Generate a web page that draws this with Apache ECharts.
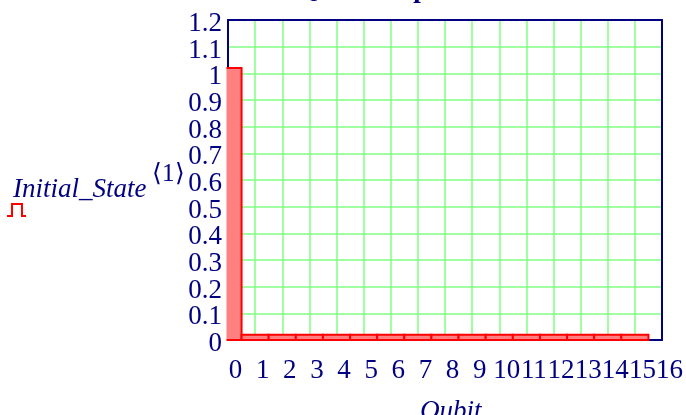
<!DOCTYPE html>
<html>
<head>
<meta charset="utf-8">
<script src="https://cdn.jsdelivr.net/npm/echarts@6/dist/echarts.min.js"></script>
<style>
html,body{margin:0;padding:0;background:#fff;}
#chart{width:686px;height:415px;}
</style>
</head>
<body>
<div id="chart"></div>
<script>
// Data
const qubitIndex = [0, 1, 2, 3, 4, 5, 6, 7, 8, 9, 10, 11, 12, 13, 14, 15];
const initialState = [1.02, 0.02, 0.02, 0.02, 0.02, 0.02, 0.02, 0.02, 0.02, 0.02, 0.02, 0.02, 0.02, 0.02, 0.02, 0.02];
const xTickLabels = ['0','1','2','3','4','5','6','7','8','9','10','11','12','13','14','15','16'];
const yTickLabels = ['0','0.1','0.2','0.3','0.4','0.5','0.6','0.7','0.8','0.9','1','1.1','1.2'];
const titleText = 'Qubit Amplitudes';
const xTitle = 'Qubit';
const yTitle = 'Initial_State';
const ySuper = '\u27E81\u27E9';

const NAVY = '#000080';
const FONT = '"Liberation Serif", "Times New Roman", serif';
const X_MIN = 0, X_MAX = 16, Y_MIN = 0, Y_MAX = 1.2;

const chart = echarts.init(document.getElementById('chart'), null, {renderer: 'canvas'});

const xLabelStyle = {
  show: true, color: NAVY, fontFamily: FONT, fontSize: 27, lineHeight: 22,
  margin: 31, align: 'center', verticalAlign: 'middle', padding: [0, 0, 0, 15], hideOverlap: false
};
const yLabelStyle = {
  show: true, color: NAVY, fontFamily: FONT, fontSize: 27, lineHeight: 8,
  margin: 6, verticalAlign: 'top', padding: 0, hideOverlap: false
};
const xLabel = v => xTickLabels[Math.round(v)];
const yLabel = v => yTickLabels[Math.round(v * 10)];

const baseX = {type: 'value', min: X_MIN, max: X_MAX, interval: 1, axisTick: {show: false}};
const baseY = {type: 'value', min: Y_MIN, max: Y_MAX, interval: 0.1, axisTick: {show: false}};

const option = {
  animation: false,
  backgroundColor: '#ffffff',
  grid: {left: 228, right: 23, top: 20, bottom: 75, show: false},
  xAxis: [
    Object.assign({}, baseX, {
      position: 'bottom',
      axisLine: {show: true, lineStyle: {color: NAVY, width: 2}},
      splitLine: {show: true, showMinLine: false, showMaxLine: false, lineStyle: {color: '#80FF80', width: 1.5}},
      axisLabel: Object.assign({}, xLabelStyle, {showMinLabel: false, showMaxLabel: false, formatter: xLabel})
    }),
    Object.assign({}, baseX, {
      position: 'bottom',
      axisLine: {show: false}, splitLine: {show: false},
      axisLabel: Object.assign({}, xLabelStyle, {showMinLabel: true, showMaxLabel: true,
        formatter: v => (Math.round(v) === X_MIN || Math.round(v) === X_MAX) ? xLabel(v) : ''})
    }),
    Object.assign({}, baseX, {
      position: 'top',
      axisLine: {show: true, onZero: false, lineStyle: {color: NAVY, width: 2}},
      axisLabel: {show: false}, splitLine: {show: false}
    })
  ],
  yAxis: [
    Object.assign({}, baseY, {
      position: 'left',
      axisLine: {show: true, lineStyle: {color: NAVY, width: 2}},
      splitLine: {show: true, showMinLine: false, showMaxLine: false, lineStyle: {color: '#80FF80', width: 1.5}},
      axisLabel: Object.assign({}, yLabelStyle, {showMinLabel: false, showMaxLabel: false, formatter: yLabel})
    }),
    Object.assign({}, baseY, {
      position: 'left',
      axisLine: {show: false}, splitLine: {show: false},
      axisLabel: Object.assign({}, yLabelStyle, {showMinLabel: true, showMaxLabel: true,
        formatter: v => (Math.abs(v - Y_MIN) < 1e-6 || Math.abs(v - Y_MAX) < 1e-6) ? yLabel(v) : ''})
    }),
    Object.assign({}, baseY, {
      position: 'right',
      axisLine: {show: true, onZero: false, lineStyle: {color: NAVY, width: 2}},
      axisLabel: {show: false}, splitLine: {show: false}
    })
  ],
  series: [{
    type: 'custom',
    xAxisIndex: 0, yAxisIndex: 0,
    data: qubitIndex.map((q, i) => [q, initialState[i]]),
    renderItem: function (params, api) {
      const x = api.value(0), v = api.value(1);
      const pTop = api.coord([x - 0.5, v]);
      const pBot = api.coord([x + 0.5, 0]);
      const cs = params.coordSys;
      const clipped = pTop[0] < cs.x;
      const left = clipped ? cs.x - 1.5 : pTop[0];
      const right = Math.min(pBot[0], cs.x + cs.width);
      const top = pTop[1], bot = pBot[1];
      const pts = clipped
        ? [[left, top], [right, top], [right, bot], [left, bot]]
        : [[left, bot], [left, top], [right, top], [right, bot], [left, bot]];
      return {
        type: 'group',
        children: [
          {type: 'rect', shape: {x: left, y: top, width: right - left, height: bot - top}, style: {fill: '#FF8080'}},
          {type: 'polyline', shape: {points: pts}, style: {stroke: '#FF0000', lineWidth: 2, fill: null}}
        ]
      };
    }
  }],
  graphic: [
    {type: 'text', left: 297, top: -23, style: {text: titleText, font: 'bold 27px ' + FONT, fill: NAVY}},
    {type: 'text', left: 420, top: 398, style: {text: xTitle, font: 'italic 27px ' + FONT, fill: NAVY}},
    {type: 'text', left: 13, top: 176, style: {text: yTitle, font: 'italic 27px ' + FONT, fill: NAVY}},
    {type: 'text', left: 152, top: 162, style: {text: ySuper, font: '25px ' + FONT, fill: NAVY}},
    {type: 'polyline', shape: {points: [[7, 216], [12, 216], [12, 204], [22, 204], [22, 216], [26, 216]]},
     style: {stroke: '#FF0000', lineWidth: 2, fill: null}}
  ]
};
chart.setOption(option);
</script>
</body>
</html>
